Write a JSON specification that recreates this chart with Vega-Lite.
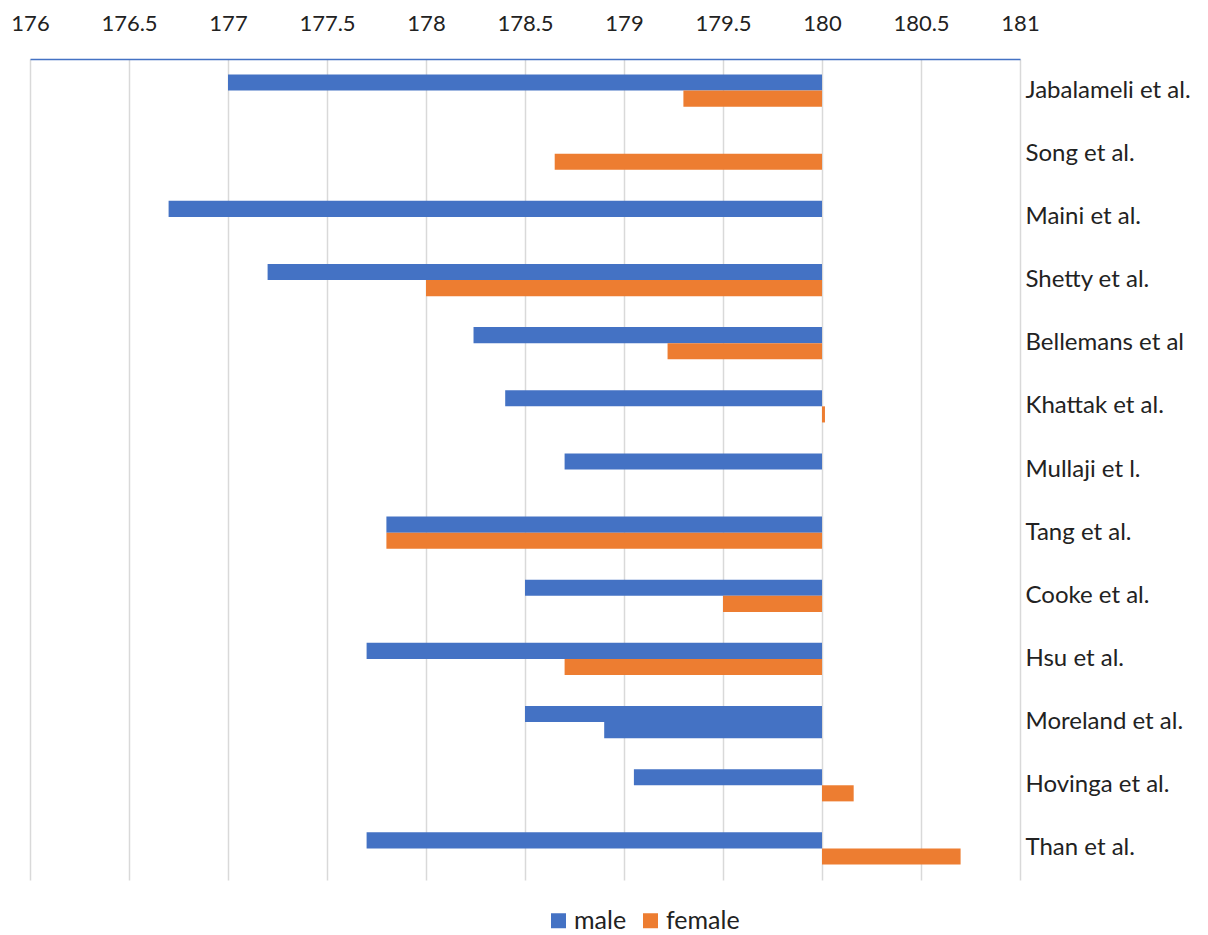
{
  "$schema": "https://vega.github.io/schema/vega-lite/v6.json",
  "width": 990,
  "height": 821,
  "autosize": "none",
  "padding": {"left": 30, "top": 59, "right": 188, "bottom": 55},
  "background": "white",
  "config": {
    "view": {"stroke": null},
    "font": "Lato",
    "axis": {"labelFont": "Lato", "labelColor": "#222222"},
    "legend": {"labelFont": "Lato"}
  },
  "data": {
    "values": [
      {"study": "Jabalameli et al.", "sex": "male", "value": 177.0},
      {"study": "Jabalameli et al.", "sex": "female", "value": 179.3},
      {"study": "Song et al.", "sex": "female", "value": 178.65},
      {"study": "Maini et al.", "sex": "male", "value": 176.7},
      {"study": "Shetty et al.", "sex": "male", "value": 177.2},
      {"study": "Shetty et al.", "sex": "female", "value": 178.0},
      {"study": "Bellemans et al", "sex": "male", "value": 178.24},
      {"study": "Bellemans et al", "sex": "female", "value": 179.22},
      {"study": "Khattak et al.", "sex": "male", "value": 178.4},
      {"study": "Khattak et al.", "sex": "female", "value": 180.015},
      {"study": "Mullaji et l.", "sex": "male", "value": 178.7},
      {"study": "Tang et al.", "sex": "male", "value": 177.8},
      {"study": "Tang et al.", "sex": "female", "value": 177.8},
      {"study": "Cooke et al.", "sex": "male", "value": 178.5},
      {"study": "Cooke et al.", "sex": "female", "value": 179.5},
      {"study": "Hsu et al.", "sex": "male", "value": 177.7},
      {"study": "Hsu et al.", "sex": "female", "value": 178.7},
      {"study": "Moreland et al.", "sex": "male", "value": 178.5},
      {"study": "Moreland et al.", "sex": "female", "value": 178.9},
      {"study": "Hovinga et al.", "sex": "male", "value": 179.05},
      {"study": "Hovinga et al.", "sex": "female", "value": 180.16},
      {"study": "Than et al.", "sex": "male", "value": 177.7},
      {"study": "Than et al.", "sex": "female", "value": 180.7}
    ]
  },
  "mark": {"type": "bar"},
  "encoding": {
    "x": {
      "field": "value",
      "type": "quantitative",
      "scale": {"domain": [176, 181], "zero": false, "nice": false},
      "axis": {
        "orient": "top",
        "title": null,
        "values": [176, 176.5, 177, 177.5, 178, 178.5, 179, 179.5, 180, 180.5, 181],
        "format": "~f",
        "labelFontSize": 22,
        "labelPadding": 24,
        "ticks": false,
        "domainColor": "#4472C4",
        "domainWidth": 1.5,
        "gridColor": "#d9d9d9",
        "gridWidth": 1.5,
        "labelFlush": false
      }
    },
    "x2": {"datum": 180},
    "y": {
      "field": "study",
      "type": "nominal",
      "sort": null,
      "scale": {"paddingInner": 0.49, "paddingOuter": 0.245},
      "axis": {
        "orient": "right",
        "title": null,
        "domain": false,
        "ticks": false,
        "labelFontSize": 24,
        "labelPadding": 5,
        "labelAlign": "left"
      }
    },
    "yOffset": {
      "field": "sex",
      "type": "nominal",
      "scale": {"domain": ["male", "female"], "paddingInner": 0, "paddingOuter": 0}
    },
    "color": {
      "condition": {
        "test": "datum.study === 'Moreland et al.' && datum.sex === 'female'",
        "value": "#4472C4"
      },
      "field": "sex",
      "type": "nominal",
      "scale": {"domain": ["male", "female"], "range": ["#4472C4", "#ED7D31"]},
      "legend": {
        "orient": "none",
        "legendX": 516,
        "legendY": 849,
        "direction": "horizontal",
        "title": null,
        "symbolType": "square",
        "symbolSize": 225,
        "symbolStrokeWidth": 0,
        "labelFontSize": 25,
        "labelColor": "#222222",
        "labelOffset": 3,
        "columnPadding": 11
      }
    }
  }
}
